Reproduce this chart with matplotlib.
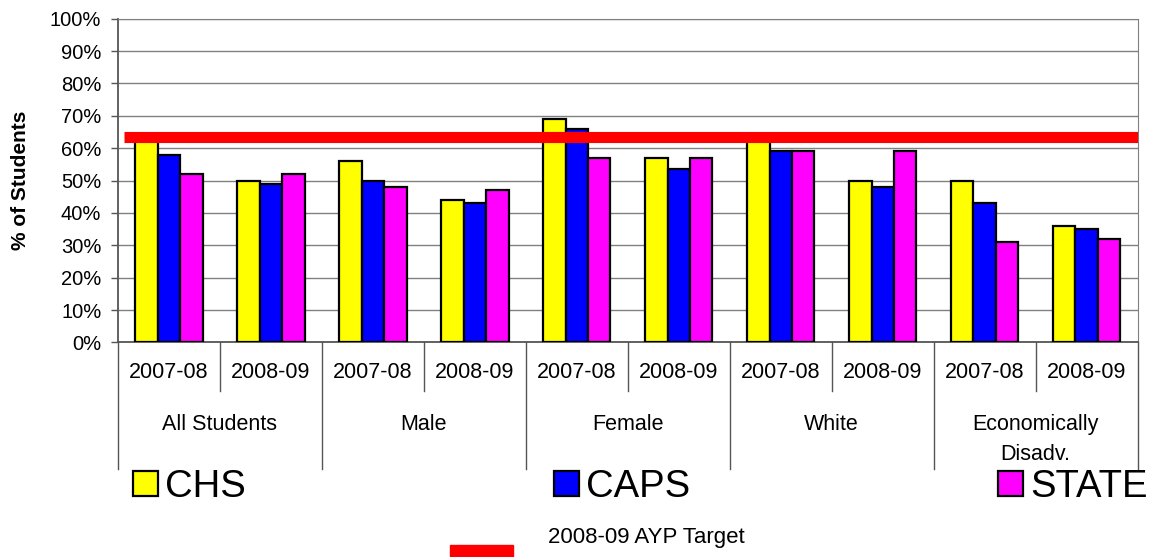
import numpy as np
import matplotlib.pyplot as plt
import matplotlib.transforms as mtransforms
from matplotlib.patches import Rectangle

plt.rcParams['font.family'] = ['Liberation Sans', 'DejaVu Sans']

# data
groups = ['All Students', 'Male', 'Female', 'White', 'Economically\nDisadv.']
years = ['2007-08', '2008-09']
chs = [63, 50, 56, 44, 69, 57, 63, 50, 50, 36]
caps = [58, 49, 50, 43, 66, 53.5, 59, 48, 43, 35]
state = [52, 52, 48, 47, 57, 57, 59, 59, 31, 32]
ayp_target = 63.4

fig = plt.figure(figsize=(11.75, 5.57), dpi=100)
ax = fig.add_axes([0.1004, 0.3851, 0.8678, 0.5813])

x = np.arange(len(chs))
w = 0.22
series = [(-1, chs, '#FFFF00', 'CHS'),
          (0, caps, '#0000FF', 'CAPS'),
          (1, state, '#FF00FF', 'STATE')]
handles = []
for off, vals, col, lab in series:
    b = ax.bar(x + off * w, vals, w, color=col, edgecolor='black',
               linewidth=1.6, label=lab, zorder=3)
    handles.append(b)

# target line
ax.axhline(ayp_target, xmin=0.006, xmax=1, color='#FF0000', lw=8,
           solid_capstyle='butt', zorder=4)

ax.set_xlim(-0.5, len(chs) - 0.5)
ax.set_ylim(0, 100)
ax.set_yticks(range(0, 101, 10))
ax.set_yticklabels([f'{v}%' for v in range(0, 101, 10)])
ax.set_xticks([])
ax.yaxis.grid(True, color='#808080', lw=1)
ax.set_axisbelow(True)
ax.tick_params(axis='y', length=5, width=1, color='#555555', labelsize=14.5, pad=7)
for s in ['top', 'right']:
    ax.spines[s].set_color('#808080')
for s in ['left', 'bottom']:
    ax.spines[s].set_color('#555555')
    ax.spines[s].set_linewidth(1.3)

ax.set_ylabel('% of Students', fontsize=15, fontweight='bold', labelpad=14)

# category table under the axis
trans = mtransforms.blended_transform_factory(ax.transData, ax.transAxes)
for k in range(len(chs) + 1):
    bx = k - 0.5
    depth = -0.39 if k % 2 == 0 else -0.15
    ax.plot([bx, bx], [0, depth], transform=trans, clip_on=False,
            color='#555555', lw=1)
for i in x:
    ax.text(i, -0.094, years[i % 2], transform=trans, ha='center',
            va='center', fontsize=15.5)
for g, name in enumerate(groups):
    ax.text(2 * g + 0.5, -0.2205, name, transform=trans, ha='center',
            va='top', fontsize=15.5, linespacing=1.6)

# legend
ax.legend(handles=handles, loc='center left',
          bbox_to_anchor=(133 / 1175, 1 - 487 / 557),
          bbox_transform=fig.transFigure, ncol=3, frameon=False,
          fontsize=27.5, handlelength=0.65, handleheight=0.63,
          handletextpad=0.2, columnspacing=8.05, borderpad=0,
          borderaxespad=0)

fig.add_artist(Rectangle((450 / 1175, 0), 63 / 1175, 12 / 557,
                         transform=fig.transFigure, color='#FF0000'))
fig.text(548 / 1175, 1 - 538 / 557, '2008-09 AYP Target', fontsize=16,
         va='center')

fig.savefig('out.png', dpi=100)
